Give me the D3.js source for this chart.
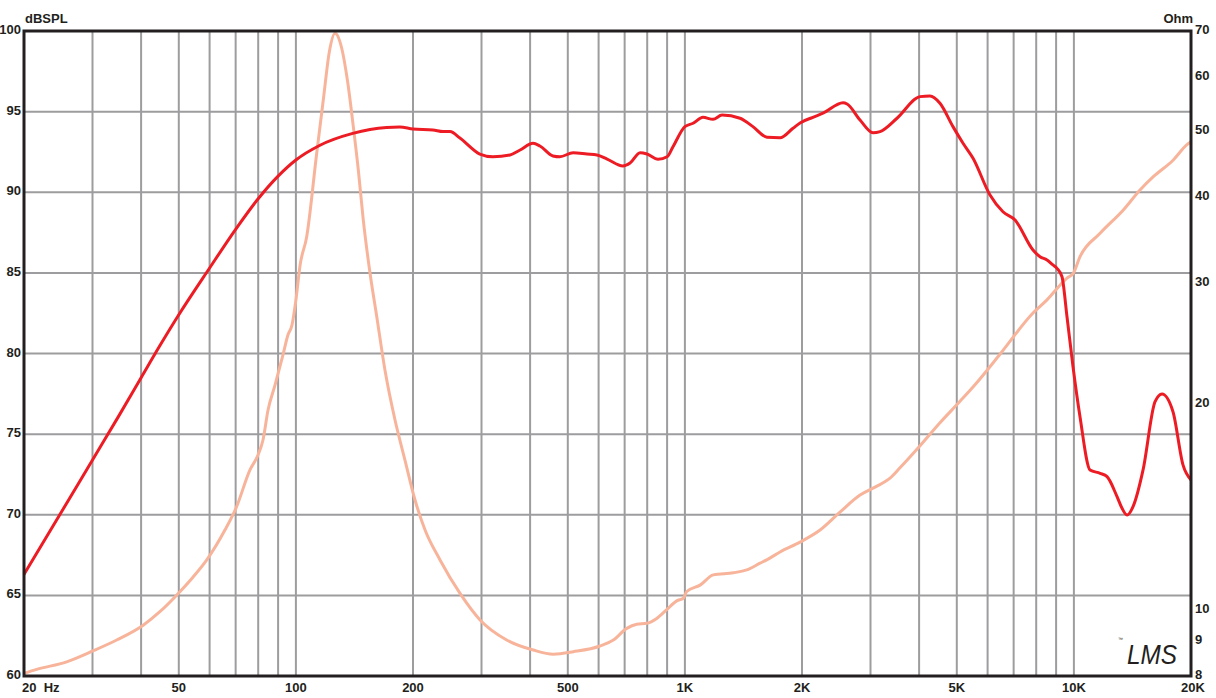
<!DOCTYPE html>
<html>
<head>
<meta charset="utf-8">
<script src="https://cdn.jsdelivr.net/npm/d3@7"></script>
<style>
  html, body { margin: 0; padding: 0; background: #fff; }
  svg { display: block; }
  text { font-family: "Liberation Sans", Arial, sans-serif; font-weight: bold; fill: #231f20; }
</style>
</head>
<body>
<svg id="chart" width="1216" height="698"></svg>
<script>
// ---- Data ----
const splFreq = [20, 25, 30, 35, 40, 45, 50, 60, 70, 80, 90, 100, 115, 140, 171, 185, 200, 225, 239, 249, 264, 297, 321, 355, 377, 407, 424, 458, 477, 516, 560, 594, 631, 693, 723, 767, 799, 853, 900, 932, 1000, 1050, 1113, 1181, 1246, 1386, 1496, 1626, 1756, 1896, 1977, 2134, 2265, 2550, 2612, 2820, 3044, 3174, 3510, 4022, 4266, 4526, 4888, 5188, 5505, 6086, 6571, 7058, 7850, 8182, 8528, 8836, 9048, 9320, 9600, 9948, 10368, 11002, 11676, 12170, 12910, 13296, 13696, 14190, 15058, 16166, 16846, 17978, 19074, 20000];
const splValues = [66.3, 70.2, 73.4, 76.1, 78.5, 80.6, 82.4, 85.3, 87.7, 89.6, 91.0, 92.0, 92.9, 93.65, 94.02, 94.05, 93.92, 93.86, 93.76, 93.76, 93.36, 92.37, 92.2, 92.31, 92.62, 93.04, 92.87, 92.25, 92.2, 92.45, 92.37, 92.31, 92.06, 91.63, 91.81, 92.45, 92.37, 92.04, 92.2, 92.82, 94.07, 94.28, 94.65, 94.52, 94.79, 94.59, 94.07, 93.41, 93.38, 93.97, 94.3, 94.65, 94.9, 95.55, 95.47, 94.48, 93.69, 93.76, 94.59, 95.93, 95.97, 95.52, 94.07, 93.04, 92.11, 89.83, 88.79, 88.28, 86.42, 86.0, 85.8, 85.49, 85.28, 84.76, 82.28, 79.18, 76.08, 72.78, 72.57, 72.36, 71.12, 70.4, 69.98, 70.5, 72.78, 77.01, 77.49, 76.39, 73.09, 72.16];

const zFreq = [20, 21.56, 25.75, 30.15, 34.62, 40.5, 44.7, 50.4, 54.5, 59.0, 65.7, 70.2, 76.2, 79.9, 82.3, 84.8, 88.4, 92.6, 95.4, 97.7, 100, 102.5, 106.6, 113.1, 117.6, 121.9, 126.1, 131.2, 135.6, 140.5, 144.7, 149.0, 155.1, 161.4, 169.4, 179.8, 190.7, 202.4, 214.8, 234.7, 264.2, 297.4, 348.2, 407.6, 459, 516.6, 605, 654.6, 708.8, 752, 797.8, 846.4, 898, 952.8, 990.8, 1011, 1094, 1183, 1332, 1442, 1560, 1623, 1756, 1977, 2226, 2504, 2820, 3082, 3368, 3572, 4022, 4526, 5096, 5568, 6456, 7850, 8516, 9600, 9964, 10368, 11676, 13398, 14792, 16004, 18012, 19496, 20000];
const zValues = [8.07, 8.18, 8.39, 8.71, 9.03, 9.49, 9.93, 10.63, 11.17, 11.82, 13.07, 14.08, 16.0, 16.82, 17.69, 19.57, 21.29, 23.54, 25.18, 26.04, 28.32, 31.85, 35.05, 46.4, 55.5, 65.3, 69.47, 66.0, 59.4, 50.7, 43.86, 37.08, 30.99, 26.78, 22.39, 18.92, 16.54, 14.46, 13.07, 11.82, 10.56, 9.66, 9.03, 8.73, 8.61, 8.68, 8.85, 9.03, 9.39, 9.52, 9.55, 9.71, 10.0, 10.30, 10.39, 10.63, 10.86, 11.24, 11.32, 11.43, 11.69, 11.82, 12.14, 12.55, 13.07, 13.88, 14.70, 15.10, 15.56, 16.11, 17.35, 18.75, 20.15, 21.3, 23.6, 27.12, 28.32, 30.5, 30.99, 32.77, 35.45, 38.35, 41.02, 42.89, 45.37, 47.72, 48.25];

const xGrid = [30, 40, 50, 60, 70, 80, 90, 100, 200, 300, 400, 500, 600, 700, 800, 900, 1000, 2000, 3000, 4000, 5000, 6000, 7000, 8000, 9000, 10000];
const xLabelValues = [50, 100, 200, 500, 1000, 2000, 5000, 10000, 20000];
const xLabelTexts = ["50", "100", "200", "500", "1K", "2K", "5K", "10K", "20K"];
const splTicks = [100, 95, 90, 85, 80, 75, 70, 65, 60];
const zTicks = [70, 60, 50, 40, 30, 20, 10, 9, 8];

// ---- Layout ----
const L = 24, R = 1191, T = 31, B = 676;
const svg = d3.select("#chart");

const x = d3.scaleLog().domain([20, 20000]).range([L, R]);
const ySpl = d3.scaleLinear().domain([60, 100]).range([B, T]);
const yZ = d3.scaleLog().domain([8, 70]).range([B, T]);

// grid
const grid = svg.append("g").attr("stroke", "#9d9d9f").attr("stroke-width", 2);
grid.selectAll("line.v").data(xGrid).enter().append("line")
  .attr("x1", d => x(d)).attr("x2", d => x(d)).attr("y1", T).attr("y2", B);
grid.selectAll("line.h").data(splTicks.filter(d => d > 60 && d < 100)).enter().append("line")
  .attr("x1", L).attr("x2", R).attr("y1", d => ySpl(d)).attr("y2", d => ySpl(d));

// curves
const zLine = d3.line().x(d => x(d[0])).y(d => yZ(d[1])).curve(d3.curveMonotoneX);
const splLine = d3.line().x(d => x(d[0])).y(d => ySpl(d[1])).curve(d3.curveMonotoneX);

svg.append("path")
  .datum(zFreq.map((f, i) => [f, zValues[i]]))
  .attr("d", zLine).attr("fill", "none")
  .attr("stroke", "#f8b49a").attr("stroke-width", 3).attr("stroke-linejoin", "round");

svg.append("path")
  .datum(splFreq.map((f, i) => [f, splValues[i]]))
  .attr("d", splLine).attr("fill", "none")
  .attr("stroke", "#ed1c24").attr("stroke-width", 3).attr("stroke-linejoin", "round");

// frame
svg.append("rect").attr("x", L).attr("y", T).attr("width", R - L).attr("height", B - T)
  .attr("fill", "none").attr("stroke", "#231f20").attr("stroke-width", 3);

// axes labels
const fs = 13;
svg.append("g").selectAll("text").data(splTicks).enter().append("text")
  .attr("x", 21).attr("y", d => ySpl(d) + 3).attr("text-anchor", "end")
  .attr("font-size", fs).text(d => d);

svg.append("g").selectAll("text").data(zTicks).enter().append("text")
  .attr("x", 1195).attr("y", d => yZ(d) + 3).attr("text-anchor", "start")
  .attr("font-size", fs).text(d => d);

svg.append("g").selectAll("text").data(xLabelValues).enter().append("text")
  .attr("x", d => x(d) + (d === 20000 ? 2 : 0)).attr("y", 692).attr("text-anchor", "middle")
  .attr("font-size", fs).text((d, i) => xLabelTexts[i]);

svg.append("text").attr("x", 22).attr("y", 692).attr("font-size", fs)
  .attr("xml:space", "preserve").text("20  Hz");

svg.append("text").attr("x", 25).attr("y", 23).attr("font-size", fs).text("dBSPL");
svg.append("text").attr("x", 1193).attr("y", 23).attr("font-size", fs).attr("text-anchor", "end").text("Ohm");

// logo
svg.append("text").attr("x", 1127).attr("y", 664)
  .attr("font-family", "DejaVu Sans")
  .style("font-weight", "200").style("font-style", "italic")
  .attr("font-size", 27).attr("textLength", 50).attr("lengthAdjust", "spacingAndGlyphs")
  .style("fill", "#231f20").text("LMS");
svg.append("text").attr("x", 1118).attr("y", 641)
  .style("font-weight", "normal").attr("font-size", 5).text("™");
</script>
</body>
</html>
